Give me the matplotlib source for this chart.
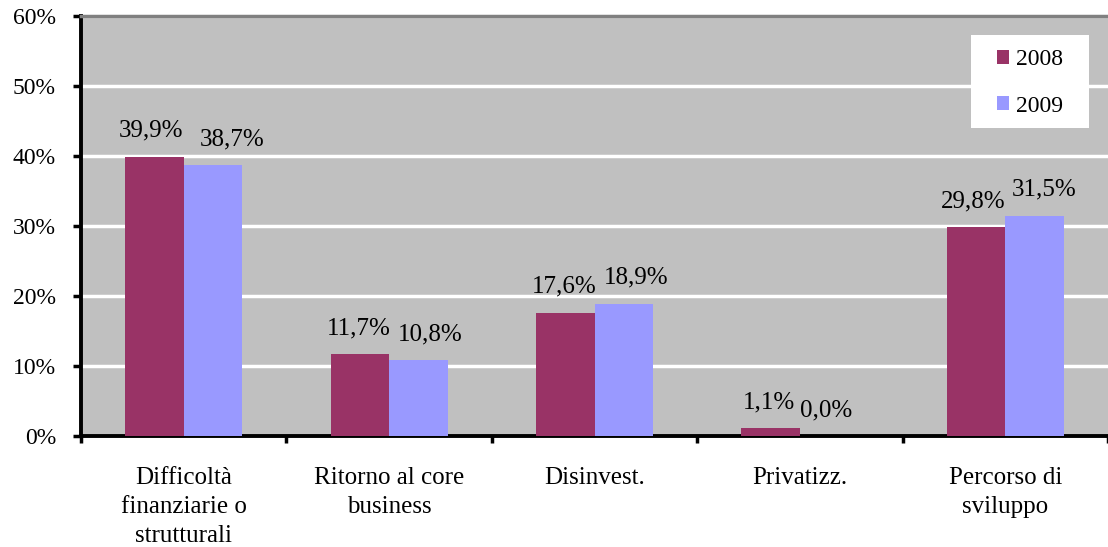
import matplotlib
matplotlib.use("Agg")
import matplotlib.pyplot as plt
from matplotlib.patches import Rectangle
import numpy as np

categories = ["Difficoltà\nfinanziarie o\nstrutturali", "Ritorno al core\nbusiness",
              "Disinvest.", "Privatizz.", "Percorso di\nsviluppo"]
series_names = ["2008", "2009"]
values_2008 = [39.9, 11.7, 17.6, 1.1, 29.8]
values_2009 = [38.7, 10.8, 18.9, 0.0, 31.5]
y_ticks = [0, 10, 20, 30, 40, 50, 60]
y_tick_labels = ["0%", "10%", "20%", "30%", "40%", "50%", "60%"]

colors = ["#993366", "#9999FF"]
# horizontal nudges (pixels) that keep neighbouring value labels apart
label_nudge_px = [[-3, -1, -1, -2, -3], [19, 12, 12, -3, 10]]

plt.rcParams["font.family"] = ["Liberation Serif", "DejaVu Serif"]

W, H = 1108, 547
fig = plt.figure(figsize=(W / 100, H / 100), dpi=100)
ax = fig.add_axes([81 / W, (H - 436) / H, 1027 / W, 420 / H])
ax.set_facecolor("#C0C0C0")
px = 72 / 100  # points per pixel

x = np.arange(len(categories))
bw = 0.285
series = [values_2008, values_2009]
for i, (vals, name, c) in enumerate(zip(series, series_names, colors)):
    xs = x + (i - 0.5) * bw
    ax.bar(xs, vals, width=bw, color=c, label=name, zorder=3, linewidth=0)
    for xi, v, dx in zip(xs, vals, label_nudge_px[i]):
        ax.annotate(f"{v:.1f}%".replace(".", ","), (xi, v),
                    xytext=(dx * px, 20 * px), textcoords="offset points",
                    ha="center", va="baseline", fontsize=18, zorder=4)

ax.set_ylim(0, 60)
ax.set_xlim(-0.5, 4.46)
ax.set_yticks(y_ticks)
ax.set_yticklabels(y_tick_labels, fontsize=17)
ax.yaxis.grid(True, color="white", linewidth=2.5, zorder=1)
ax.set_axisbelow(True)

ax.set_xticks(np.arange(-0.5, 4.6, 1.0))
ax.set_xticklabels([])
ax.set_xticks(x, minor=True)
ax.set_xticklabels(categories, minor=True, fontsize=18, linespacing=1.42)
ax.tick_params(axis="x", which="minor", length=0, pad=22)
ax.tick_params(axis="x", which="major", length=5, width=2.5, direction="out")
ax.tick_params(axis="y", length=6, width=2.5, direction="out", pad=12)

for s in ["left", "bottom"]:
    ax.spines[s].set_linewidth(2.8)
    ax.spines[s].set_color("black")
ax.spines["top"].set_color("#808080")
ax.spines["top"].set_linewidth(2.5)
ax.spines["right"].set_visible(False)

# white legend panel
ax.add_patch(Rectangle(((971 - 81) / 1027, (436 - 128) / 420), 118 / 1027, 93 / 420,
                       transform=ax.transAxes, facecolor="white", edgecolor="none",
                       zorder=5))
leg = ax.legend(loc="center", bbox_to_anchor=((1030 - 81) / 1027, (436 - 83) / 420),
                fontsize=17, frameon=False, handlelength=0.5, handleheight=0.5,
                handletextpad=0.3, borderpad=0, labelspacing=1.06, borderaxespad=0)
leg.set_zorder(6)

fig.savefig("out.png", dpi=100)
